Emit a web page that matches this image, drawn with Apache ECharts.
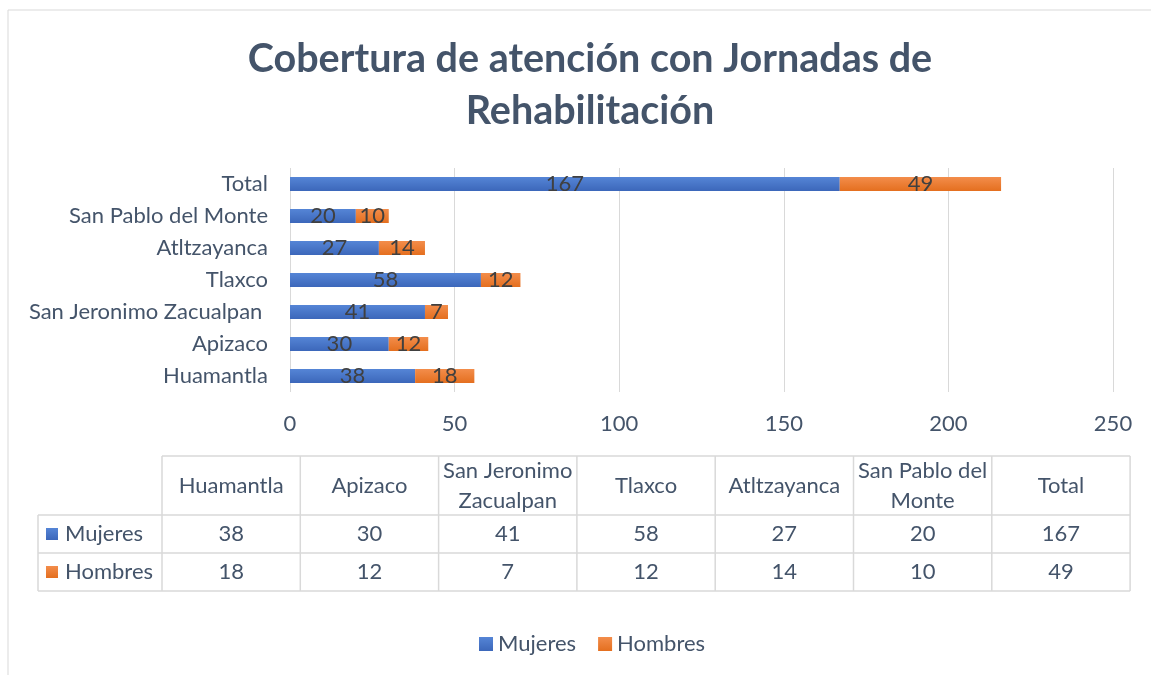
<!DOCTYPE html>
<html>
<head>
<meta charset="utf-8">
<script src="https://cdn.jsdelivr.net/npm/echarts@6/dist/echarts.min.js"></script>
<style>
  html, body { margin: 0; padding: 0; background: #fff; }
  #chart { width: 1151px; height: 675px; }
</style>
</head>
<body>
<div id="chart"></div>
<script>
const categories = ['Huamantla', 'Apizaco', 'San Jeronimo Zacualpan ', 'Tlaxco', 'Atltzayanca', 'San Pablo del Monte', 'Total'];
const tableHeaders = ['Huamantla', 'Apizaco', 'San Jeronimo\nZacualpan', 'Tlaxco', 'Atltzayanca', 'San Pablo del\nMonte', 'Total'];
const mujeres = [38, 30, 41, 58, 27, 20, 167];
const hombres = [18, 12, 7, 12, 14, 10, 49];
const xTicks = [0, 50, 100, 150, 200, 250];

const FONT = 'Lato';
const TEXT = '#44546A';
const LINE = '#D9D9D9';
const FS = 22;

const blue = new echarts.graphic.LinearGradient(0, 0, 0, 1, [
  { offset: 0, color: '#5585D6' }, { offset: 1, color: '#3C67BA' }
]);
const orange = new echarts.graphic.LinearGradient(0, 0, 0, 1, [
  { offset: 0, color: '#F38D4B' }, { offset: 1, color: '#E46F1F' }
]);

const chart = echarts.init(document.getElementById('chart'));

// data table under the plot, built from the arrays above
const tLeft = 38, tKey = 162, colW = 138.3, tTop = 456;
const tRight = tKey + colW * categories.length;
const table = [];
const lineStyle = { stroke: LINE, lineWidth: 1.5 };
table.push({ type: 'line', shape: { x1: tKey, y1: tTop, x2: tRight, y2: tTop }, style: lineStyle });
[515, 553, 591].forEach(y => table.push({ type: 'line', shape: { x1: tLeft, y1: y, x2: tRight, y2: y }, style: lineStyle }));
table.push({ type: 'line', shape: { x1: tLeft, y1: 515, x2: tLeft, y2: 591 }, style: lineStyle });
for (let i = 0; i <= categories.length; i++) {
  const x = tKey + colW * i;
  table.push({ type: 'line', shape: { x1: x, y1: tTop, x2: x, y2: 591 }, style: lineStyle });
}
const cellText = (txt, x, y) => ({
  type: 'text', x: x, y: y,
  style: { text: String(txt), fill: TEXT, font: FS + 'px ' + FONT, align: 'center', verticalAlign: 'middle', lineHeight: 30 }
});
tableHeaders.forEach((h, i) => table.push(cellText(h, tKey + colW * (i + 0.5), 486)));
mujeres.forEach((v, i) => table.push(cellText(v, tKey + colW * (i + 0.5), 534)));
hombres.forEach((v, i) => table.push(cellText(v, tKey + colW * (i + 0.5), 572)));
[['Mujeres', blue, 534], ['Hombres', orange, 572]].forEach(([name, fill, y]) => {
  table.push({ type: 'rect', shape: { x: 46, y: y - 6, width: 12, height: 12 }, style: { fill: fill } });
  table.push({ type: 'text', x: 65, y: y, style: { text: name, fill: TEXT, font: FS + 'px ' + FONT, verticalAlign: 'middle' } });
});

const labelStyle = { show: true, position: 'inside', color: '#404040', fontSize: FS, fontFamily: FONT };

chart.setOption({
  backgroundColor: '#fff',
  title: {
    text: 'Cobertura de atención con Jornadas de\nRehabilitación',
    left: 585, top: 28, textAlign: 'center',
    textStyle: { fontFamily: FONT, fontSize: 39.5, fontWeight: 'bold', color: TEXT, lineHeight: 52 }
  },
  legend: {
    left: 474, top: 628,
    itemWidth: 14, itemHeight: 14, itemGap: 22,
    icon: 'rect',
    textStyle: { fontFamily: FONT, fontSize: FS, color: TEXT },
    data: ['Mujeres', 'Hombres']
  },
  grid: { left: 290, right: 38, top: 168, height: 224, containLabel: false },
  xAxis: {
    type: 'value', min: xTicks[0], max: xTicks[xTicks.length - 1], interval: xTicks[1] - xTicks[0],
    axisLine: { show: false }, axisTick: { show: false },
    axisLabel: { fontFamily: FONT, fontSize: FS, color: TEXT, margin: 21 },
    splitLine: { lineStyle: { color: LINE, width: 1 } }
  },
  yAxis: {
    type: 'category', data: categories,
    axisLine: { show: false }, axisTick: { show: false },
    axisLabel: { fontFamily: FONT, fontSize: FS, color: TEXT, margin: 22 }
  },
  series: [
    { name: 'Mujeres', type: 'bar', stack: 'a', data: mujeres, barWidth: 14, itemStyle: { color: blue }, label: labelStyle },
    { name: 'Hombres', type: 'bar', stack: 'a', data: hombres, barWidth: 14, itemStyle: { color: orange }, label: labelStyle }
  ],
  graphic: [
    { type: 'rect', shape: { x: 8, y: 10, width: 1160, height: 700 }, style: { fill: 'none', stroke: '#D9D9D9', lineWidth: 1 }, z: -1 },
    ...table
  ]
});
</script>
</body>
</html>
